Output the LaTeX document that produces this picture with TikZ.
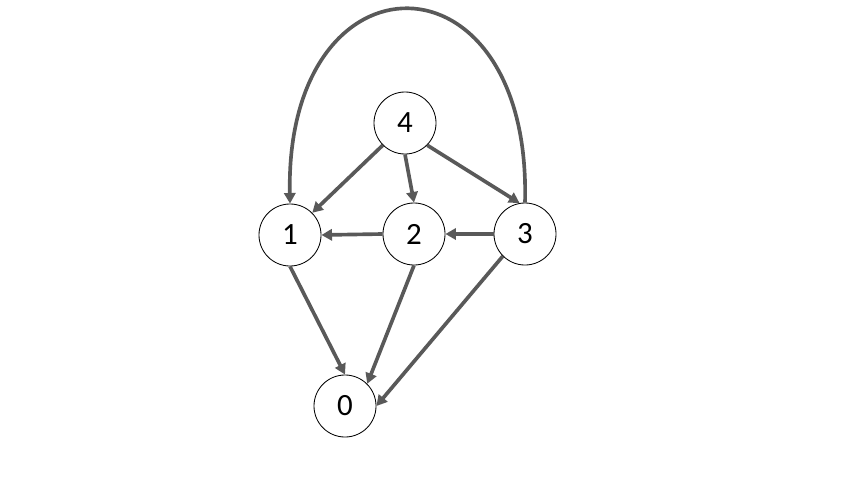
\documentclass[tikz,border=0pt]{standalone}
\usepackage{fontspec}
\setmainfont{Carlito}
\usetikzlibrary{arrows.meta}
\definecolor{edgegray}{HTML}{595959}
\tikzset{
    vertex/.style={draw=black, line width=0.6pt, circle, fill=white,
        minimum size=1.55cm, inner sep=0pt, font=\fontsize{22}{26}\selectfont} }
\tikzset{
    darrow/.style={draw=edgegray, line width=2.6pt,
        -{Triangle[length=7.5pt,width=8pt]}} }

\begin{document}
\begin{tikzpicture}[x=0.025cm,y=-0.025cm]

  \useasboundingbox (0,0) rectangle (853,480);
  \node [vertex] (n4) at (405,123) {4};
  \node [vertex] (n1) at (290,235) {1}; \node [vertex] (n2) at (414,234) {2};
  \node [vertex] (n3) at (525,234) {3};
  \node [vertex] (n0) at (345,406) {0};

  \draw [darrow] (n4.south west) -- (n1.north east);
  \draw [darrow] (n4.south) -- (n2.north);
  \draw [darrow] (n4.south east) -- (n3.100);
  \draw [darrow] (n2.west) -- (n1.east); \draw [darrow] (n3.west) -- (n2.east);
  \draw [darrow] (n1.south) -- (n0.north);
  \draw [darrow] (n2.south) -- (n0.north east);
  \draw [darrow] (n3.south west) -- (n0.east);
  % arc over the top
  \draw [darrow] (n3.north) .. controls (532,-55) and (285,-55) .. (n1.north);

\end{tikzpicture}
\end{document}
